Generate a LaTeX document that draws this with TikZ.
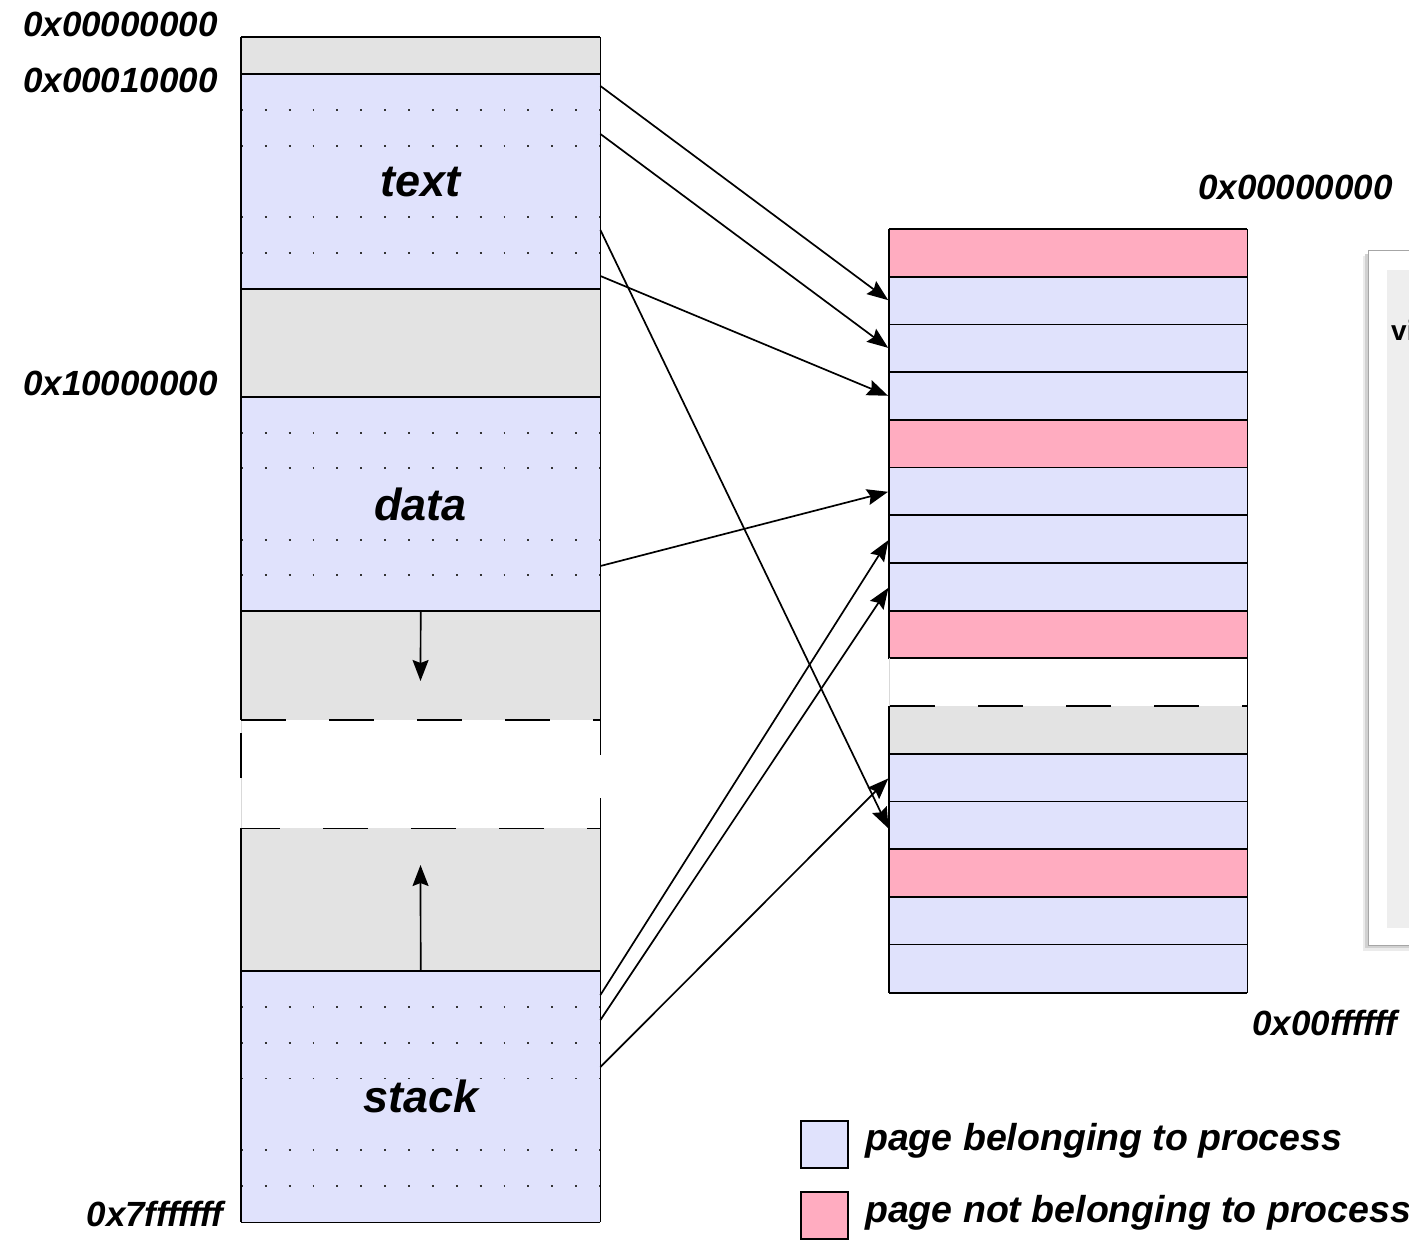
\documentclass[tikz,border=0pt]{standalone}
\usepackage{fontspec}
\setmainfont{Liberation Sans}
\usetikzlibrary{arrows.meta,calc}
\definecolor{pgblue}{RGB}{224,226,252}
\definecolor{pgpink}{RGB}{255,172,192}
\definecolor{pggray}{RGB}{227,227,227}
\definecolor{panelgray}{RGB}{238,238,238}
\begin{document}
\begin{tikzpicture}[x=1pt,y=-1pt,
  seg/.style={rectangle, draw=none, inner sep=0pt, minimum width=359pt, anchor=north west,
    font=\fontsize{45}{50}\selectfont\bfseries\itshape},
  pagerow/.style={rectangle, draw=none, inner sep=0pt, minimum width=358pt, minimum height=47.7pt, anchor=north west},
  border/.style={line width=1.8pt, draw=black},
  gapline/.style={line width=1.8pt, draw=black, dash pattern=on 45pt off 43pt},
  dotrow/.style={draw=black!80, line width=1.8pt, dash pattern=on 1.8pt off 22.07pt},
  addr/.style={font=\fontsize{35}{40}\selectfont\bfseries\itshape, inner sep=0pt},
  legtext/.style={font=\fontsize{37.5}{42}\selectfont\bfseries\itshape, inner sep=0pt, anchor=west},
  conn/.style={-{Stealth[length=21pt,width=16pt,inset=3pt]}, line width=1.7pt, shorten >=1pt},
]
\useasboundingbox (0,0) rectangle (1409,1240);
\clip (0,0) rectangle (1409,1240);

% ---------- process address space (left column) ----------
\node[seg, fill=pggray, minimum height=37pt]  (null)  at (241,37)  {};
\node[seg, fill=pgblue, minimum height=215pt] (txt)   at (241,74)  {text};
\node[seg, fill=pggray, minimum height=108pt] (hole)  at (241,289) {};
\node[seg, fill=pgblue, minimum height=214pt] (data)  at (241,397) {data};
\node[seg, fill=pggray, minimum height=109pt] (heap)  at (241,611) {};
\node[seg, fill=white,  minimum height=108pt] (gap)   at (241,720) {};
\node[seg, fill=pggray, minimum height=143pt] (free)  at (241,828) {};
\node[seg, fill=pgblue, minimum height=251pt] (stack) at (241,971) {stack};

% page boundaries inside the mapped segments
\foreach \k in {1,2,4,5} {
  \draw[dotrow] ($(txt.north west)+(0,\k*35.83)$) -- ++(359,0);
  \draw[dotrow] ($(data.north west)+(0,\k*35.67)$) -- ++(359,0);
}
\foreach \k in {1,2,3,5,6}
  \draw[dotrow] ($(stack.north west)+(0,\k*35.86)$) -- ++(359,0);

% outline of the column
\draw[border] (null.north west) -- (null.north east);
\foreach \s in {txt,hole,data,heap,stack}
  \draw[border] (\s.north west) -- (\s.north east);
\draw[border] (stack.south west) -- (stack.south east);
\draw[border] (null.north west) -- (heap.south west);
\draw[border] (null.north east) -- (heap.south east);
\draw[border] (free.north west) -- (stack.south west);
\draw[border] (free.north east) -- (stack.south east);
\draw[line width=0.8pt, draw=black!15] (gap.north west) -- (gap.south west);
\draw[line width=1.8pt, dash pattern=on 0pt off 13pt on 45pt off 60pt] (gap.north west) -- (gap.south west);
\draw[line width=1.8pt, dash pattern=on 35pt off 43pt on 40pt off 10pt] (gap.north east) -- (gap.south east);
\draw[gapline] (gap.north west) -- (gap.north east);
\draw[gapline, dash phase=6pt] (gap.south west) -- (gap.south east);

% growth directions of heap and stack
\coordinate (growdown) at (420.5,681);
\coordinate (growup)   at (420.5,865);
\draw[conn, shorten >=0pt] (data.south) -- (growdown);
\draw[conn, shorten >=0pt] (stack.north) -- (growup);

% addresses of the process space
\node[addr, anchor=base east] (a0) at (218,36.5) {0x00000000};
\node[addr, anchor=base east] (a1) at (218,92)   {0x00010000};
\node[addr, anchor=base east] (a2) at (218,395)  {0x10000000};
\node[addr, anchor=base east] (a3) at (223,1226) {0x7fffffff};

% ---------- physical memory (right column) ----------
\foreach \c [count=\i] in {pgpink,pgblue,pgblue,pgblue,pgpink,pgblue,pgblue,pgblue,pgpink,white,pggray,pgblue,pgblue,pgpink,pgblue,pgblue}
  \node[pagerow, fill=\c] (r\i) at (889,{229+(\i-1)*47.7}) {};

\foreach \i in {1,...,10,12,13,14,15,16}
  \draw[border] (r\i.north west) -- (r\i.north east);
\draw[gapline, dash phase=-1pt] (r11.north west) -- (r11.north east);
\draw[border] (r16.south west) -- (r16.south east);
\draw[border] (r1.north east) -- (r16.south east);
\draw[border] (r1.north west) -- (r9.south west);
\draw[border] (r11.north west) -- (r16.south west);
\draw[line width=0.8pt, draw=black!15] (r10.north west) -- (r10.south west);

\node[addr, anchor=base east] (b0) at (1393,199)  {0x00000000};
\node[addr, anchor=base east] (b1) at (1397,1035) {0x00ffffff};

% ---------- page mappings ----------
\draw[conn] ($(txt.north east)+(0,12)$)   -- (r2.west);
\draw[conn] ($(txt.north east)+(0,60)$)   -- (r3.west);
\draw[conn] ($(txt.north east)+(0,202)$)  -- (r4.west);
\draw[conn] ($(txt.north east)+(0,156)$)  -- ($(r13.west)+(0,4)$);
\draw[conn] ($(data.north east)+(0,169)$) -- (r6.west);
\draw[conn] ($(stack.north east)+(0,24)$) -- (r7.west);
\draw[conn] ($(stack.north east)+(0,49)$) -- (r8.west);
\draw[conn] ($(stack.north east)+(0,96)$) -- (r12.west);

% ---------- legend ----------
\node[rectangle, draw=black, line width=1.6pt, fill=pgblue, minimum width=47pt, minimum height=47pt, inner sep=0pt, anchor=north west] (kown) at (800,1120) {};
\node[rectangle, draw=black, line width=1.6pt, fill=pgpink, minimum width=47pt, minimum height=47pt, inner sep=0pt, anchor=north west] (kother) at (800,1191) {};
\node[legtext] (lown)   at (865,1141) {page belonging to process};
\node[legtext] (lother) at (865,1213) {page not belonging to process};

% ---------- side panel ----------
\fill[black!8]  (1363,256) rectangle (1420,951);
\fill[black!18] (1365,254) rectangle (1420,948);
\draw[fill=white, draw=black!35, line width=0.8pt] (1368,250) rectangle (1420,945);
\fill[panelgray] (1387,270) rectangle (1420,928);
\node[font=\fontsize{28}{32}\selectfont\bfseries, inner sep=0pt, anchor=base west] (ptitle) at (1391,340) {vi};
\end{tikzpicture}
\end{document}
